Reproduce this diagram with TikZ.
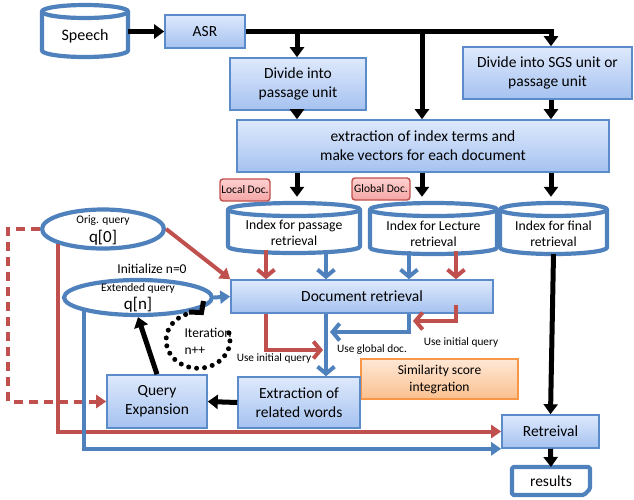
\documentclass[tikz,border=0pt]{standalone}
\usepackage{fontspec}
\setmainfont{Carlito}
\usetikzlibrary{arrows.meta,calc,shapes.geometric}
\definecolor{bblue}{HTML}{4F81BD}
\definecolor{bedge}{HTML}{5B8BC8}
\definecolor{btop}{HTML}{DEE9FC}
\definecolor{bbot}{HTML}{A5C2F0}
\definecolor{rred}{HTML}{C0504D}
\definecolor{oedge}{HTML}{F79646}
\definecolor{otop}{HTML}{FFE8D6}
\definecolor{obot}{HTML}{FAC08F}
\definecolor{ptop}{HTML}{FFD0D0}
\definecolor{pbot}{HTML}{F4A6A6}
\tikzset{
  bluebox/.style={draw=bedge, line width=1.6pt, top color=btop, bottom color=bbot, align=center, inner sep=1pt, font=\fontsize{15.5}{19}\selectfont},
  orangebox/.style={draw=oedge, line width=1.6pt, top color=otop, bottom color=obot, align=center, inner sep=1pt, font=\fontsize{13.5}{17}\selectfont},
  pinklabel/.style={draw=rred, line width=1.4pt, rounded corners=3pt, top color=ptop, bottom color=pbot, inner sep=1pt, font=\fontsize{11.5}{12}\selectfont},
  cylline/.style={draw=bblue, line width=4.2pt, line join=round},
  oval/.style={ellipse, draw=bblue, line width=4.2pt, fill=white, inner sep=0pt, align=center},
  blk/.style={line width=5pt, -{Triangle[width=14pt,length=10pt]}},
  blkline/.style={line width=5pt},
  bluebarb/.style={draw=bblue, line width=4pt, -{Straight Barb[length=7pt,width=17pt]}},
  redbarb/.style={draw=rred, line width=4pt, -{Straight Barb[length=7pt,width=17pt]}},
  bluetri/.style={draw=bblue, line width=4pt, -{Triangle[width=13pt,length=10pt]}},
  redtri/.style={draw=rred, line width=4pt, -{Triangle[width=13pt,length=10pt]}},
  smalltext/.style={font=\fontsize{11.3}{13}\selectfont},
  midtext/.style={font=\fontsize{13.5}{17}\selectfont},
  dotline/.style={line width=5pt, dash pattern=on 0pt off 8pt, line cap=round},
}
\newcommand\cylnode[7]{%
  \pgfmathsetmacro\cxx{(#2+#4)/2}%
  \pgfmathsetmacro\rxx{(#4-#2)/2}%
  \pgfmathsetmacro\cyy{(#3+#5)/2}%
  \pgfmathsetmacro\ww{#4-#2}%
  \pgfmathsetmacro\hh{#5-#3}%
  \draw[cylline, fill=white] (#2,#3+6.5) -- (#2,#5-6.5) arc[start angle=180, end angle=360, x radius=\rxx pt, y radius=6.5pt] -- (#4,#3+6.5) arc[start angle=0, end angle=180, x radius=\rxx pt, y radius=6.5pt] -- cycle;
  \draw[cylline] (#2,#3+6.5) arc[start angle=180, end angle=360, x radius=\rxx pt, y radius=6.5pt];
  \node[inner sep=0pt, minimum width=\ww pt, minimum height=\hh pt] (#1) at (\cxx,\cyy) {};
  \node[align=center, font=#7] at (\cxx,\cyy+5) {#6};
}
\begin{document}
\begin{tikzpicture}[x=1pt, y=-1pt]
\useasboundingbox (0,0) rectangle (634,499);

% cylinders
\cylnode{speech}{42}{5}{128}{57}{Speech}{\fontsize{16}{18}\selectfont}
\cylnode{cyla}{228}{203}{360}{253}{Index for passage\\retrieval}{\fontsize{13.7}{16}\selectfont}
\cylnode{cylb}{370}{203}{497}{254}{Index for Lecture\\retrieval}{\fontsize{13.7}{16}\selectfont}
\cylnode{cylc}{500}{203}{607}{254}{Index for final\\retrieval}{\fontsize{13.7}{16}\selectfont}

% boxes
\node[bluebox, minimum width=80pt, minimum height=33pt] (asr) at (205,31.5) {ASR};
\node[bluebox, minimum width=136pt, minimum height=52pt] (div1) at (298,84) {Divide into\\passage unit};
\node[bluebox, minimum width=169pt, minimum height=52pt] (div2) at (547.5,73) {Divide into SGS unit or\\passage unit};
\node[bluebox, minimum width=372pt, minimum height=52pt] (extr) at (423,146) {extraction of index terms and\\make vectors for each document};
\node[bluebox, minimum width=262pt, minimum height=33pt] (docret) at (362,296.5) {Document retrieval};
\node[orangebox, minimum width=157pt, minimum height=40pt] (sim) at (439.5,379) {Similarity score\\integration};
\node[bluebox, minimum width=122pt, minimum height=51pt] (extrw) at (299,402.5) {Extraction of\\related words};
\node[bluebox, minimum width=100pt, minimum height=53pt] (qexp) at (157,401.5) {Query\\Expansion};
\node[bluebox, minimum width=97pt, minimum height=33pt] (retr) at (550.5,431.5) {Retreival};

% labels
\node[pinklabel, minimum width=50pt, minimum height=22pt] (local) at (245,190) {Local Doc.};
\node[pinklabel, minimum width=58pt, minimum height=22pt] (global) at (381,189) {Global Doc.};

% ellipses
\node[oval, minimum width=122pt, minimum height=39pt] (orig) at (103,229) {};
\node[font=\fontsize{11.5}{12}\selectfont] at (103,221) {Orig. query};
\node[font=\fontsize{17}{18}\selectfont] at (103,238) {q[0]};
\node[oval, minimum width=148pt, minimum height=35pt] (ext) at (138,297.5) {};
\node[font=\fontsize{11.5}{12}\selectfont] at (138,288) {Extended query};
\node[font=\fontsize{17}{18}\selectfont] at (138,305) {q[n]};

% results
\draw[cylline, fill=white, rounded corners=1.5pt] (512,467) -- (590,467) -- (590,489) -- (584,495) -- (512,495) -- cycle;
\node[font=\fontsize{15.5}{17}\selectfont] (res) at (551,481) {results};

% named positions
\coordinate (xa) at (266,0);
\coordinate (xb) at (326,0);
\coordinate (xc) at (409,0);
\coordinate (xd) at (456,0);
\coordinate (xe) at (422,0);
\coordinate (xf) at (551,0);
\coordinate (xg) at (297,0);
\coordinate (xh) at (8,0);
\coordinate (ya) at (0,350);
\coordinate (yb) at (0,332);
\coordinate (yc) at (0,321);
\coordinate (yr) at (0,467);
\coordinate (ra) at (323,0);
\coordinate (rb) at (330,0);
\coordinate (rc) at (413,0);

% top black flow
\draw[blk] (speech.east |- asr.west) -- (asr.west);
\draw[blkline] (asr.east) -- ([xshift=2.5pt]asr.east -| xf);
\draw[blk] (asr.east -| xf) -- (xf |- div2.north);
\draw[blk] (asr.east -| xg) -- (xg |- div1.north);
\draw[blk] (asr.east -| xe) -- (xe |- extr.north);
\draw[blk] (xg |- div1.south) -- (xg |- extr.north);
\draw[blk] (xf |- div2.south) -- (xf |- extr.north);
\draw[blk] (xg |- extr.south) -- ([yshift=6pt]xg |- cyla.north);
\draw[blk] (xe |- extr.south) -- ([yshift=6pt]xe |- cylb.north);
\draw[blk] (xf |- extr.south) -- ([yshift=6pt]xf |- cylc.north);

% cylinders to document retrieval
\draw[redbarb] ([yshift=3pt]xa |- cyla.south) -- (xa |- docret.north);
\draw[bluebarb] ([yshift=3pt]xb |- cyla.south) -- (xb |- docret.north);
\draw[bluebarb] ([yshift=3pt]xc |- cylb.south) -- (xc |- docret.north);
\draw[redbarb] ([yshift=3pt]xd |- cylb.south) -- (xd |- docret.north);

% queries to document retrieval
\draw[redtri] (orig.east) -- (docret.north west);
\draw[bluetri] (ext.east) -- (docret.west);

% below document retrieval
\draw[redbarb] (xa |- docret.south) -- (xa |- ya) -- (ra |- ya);
\draw[bluebarb] (xb |- docret.south) -- (xb |- extrw.north);
\draw[bluebarb] (xc |- docret.south) -- (xc |- yb) -- (rb |- yb);
\draw[redbarb] ([yshift=9pt]xd |- docret.south) -- (xd |- yc) -- (rc |- yc);

% query expansion loop
\draw[blk] (extrw.west) -- (qexp.east);
\draw[blk] (qexp.north) -- (ext.south);
\draw[dotline] (229,333) arc[start angle=15, end angle=-258, x radius=32pt, y radius=28pt];
\draw[line width=5pt, line join=miter] (189,312) -- (201.5,312.5) -- (203.5,301);

% long connectors
\draw[draw=rred, line width=4pt, dash pattern=on 9pt off 6pt, -{Triangle[width=13pt,length=10pt]}] (orig.west) -- (xh |- orig.west) -- (xh |- qexp.west) -- (qexp.west);
\draw[redtri] (orig.south west) -- (orig.south west |- retr.west) -- (retr.west);
\draw[bluetri] (ext.south west) -- (ext.south west |- retr.south west) -- (retr.south west);
\draw[blk] (cylc.south) -- (retr.north);
\draw[blk] (retr.south) -- (res.north |- yr);

% texts
\node[midtext] at (152,269) {Initialize n=0};
\node[midtext, anchor=west] at (181,333) {Iteration};
\node[midtext, anchor=west] at (181,351) {n++};
\node[smalltext] at (274,358) {Use initial query};
\node[smalltext] at (372,350) {Use global doc.};
\node[smalltext] at (461,342) {Use initial query};
\end{tikzpicture}
\end{document}
